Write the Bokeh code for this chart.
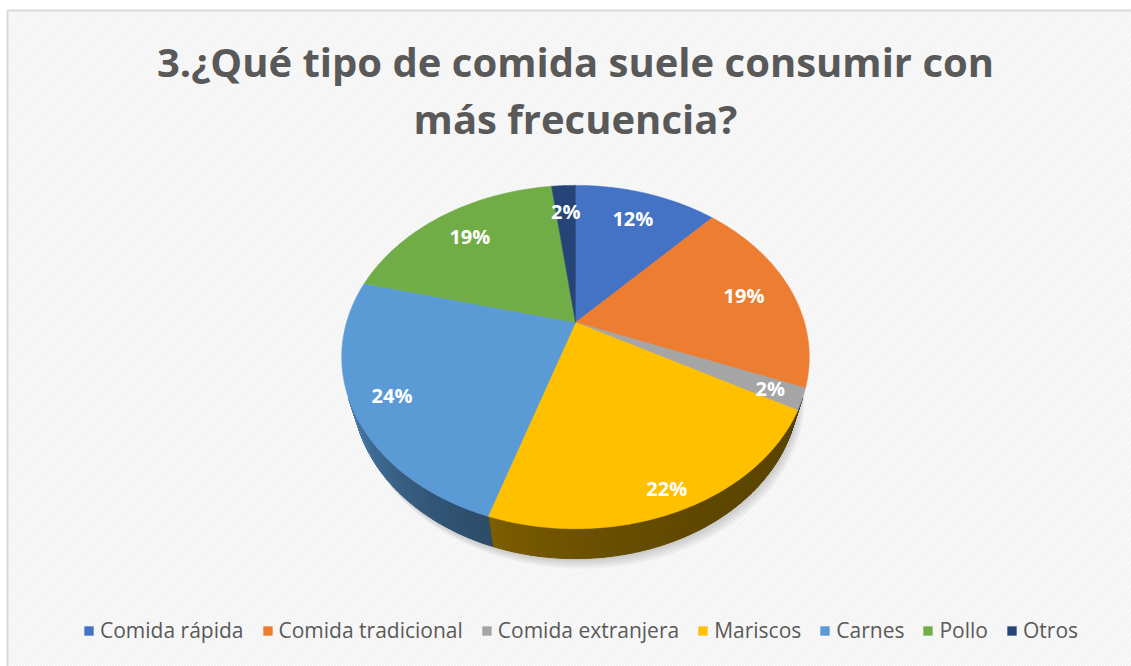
import numpy as np
from bokeh.plotting import figure
from bokeh.models import Range1d, Legend, LegendItem, ColumnDataSource
from bokeh.core.properties import value
from bokeh.embed import file_html
from bokeh.resources import INLINE

# ---------------- data ----------------
title_lines = ["3.¿Qué tipo de comida suele consumir con", "más frecuencia?"]
categories = ["Comida rápida", "Comida tradicional", "Comida extranjera",
              "Mariscos", "Carnes", "Pollo", "Otros"]
percent = [12, 19, 2, 22, 24, 19, 2]
colors = ["#4472C4", "#ED7D31", "#A5A5A5", "#FFC000", "#5B9BD5", "#70AD47", "#264478"]

# ---------------- layout / style ----------------
W, H = 1131, 666
CX, CY = 575.0, 322.0      # pie apex (px)
S = 229.0                  # horizontal scale
K = 0.2013                 # perspective strength
ALPHA = np.deg2rad(46.0)   # tilt
D = np.cos(ALPHA) / K
F = S * D
THICK = 0.217
label_r = [0.78, 0.78, 0.87, 0.90, 0.84, 0.78, 0.78]
FONT = "Open Sans"


def project(theta, r=1.0, z=0.0):
    X = r * np.cos(theta)
    Y = r * np.sin(theta)
    yc = Y * np.sin(ALPHA) + z * np.cos(ALPHA)
    zc = D + Y * np.cos(ALPHA) - z * np.sin(ALPHA)
    return CX + F * X / zc, CY - F * yc / zc


def shade(hexcol, f):
    h = hexcol.lstrip("#")
    r, g, b = (int(h[i:i + 2], 16) for i in (0, 2, 4))
    return "#%02x%02x%02x" % (int(r * f), int(g * f), int(b * f))


p = figure(width=W, height=H, x_range=Range1d(0, W), y_range=Range1d(H, 0),
           toolbar_location=None, output_backend="svg", min_border=0,
           x_axis_location=None, y_axis_location=None)
p.grid.visible = False
p.outline_line_color = None
p.background_fill_color = "white"
p.border_fill_color = "white"

# hatched chart background + border
p.quad(left=[7], right=[W + 5], top=[10], bottom=[H + 5], fill_color="white",
       hatch_pattern="\\", hatch_color="#f3f3f3", hatch_scale=6, hatch_weight=2,
       line_color="#d9d9d9", line_width=2)

# ---------------- geometry from data ----------------
total = float(sum(percent))
fr = np.array(percent) / total
cum = np.concatenate([[0.0], np.cumsum(fr)])
t_start = np.pi / 2 - 2 * np.pi * cum[:-1]
t_end = np.pi / 2 - 2 * np.pi * cum[1:]

# soft shadow under the pie
full = np.linspace(0, 2 * np.pi, 361)
bx, by = project(full, 1.0, -THICK)
for k in range(1, 6):
    p.patch(bx + 1.2 * k, by + 2.0 * k, fill_color="black", fill_alpha=0.035, line_color=None)

# visible side walls (strips)
vis_lim = -1.0 / (D * np.cos(ALPHA))
sxs, sys_, scol = [], [], []
for i in range(len(percent)):
    n = max(2, int(abs(t_start[i] - t_end[i]) / np.deg2rad(0.5)) + 1)
    th = np.linspace(t_start[i], t_end[i], n)
    for a, b in zip(th[:-1], th[1:]):
        m = 0.5 * (a + b)
        if np.sin(m) >= vis_lim:
            continue
        x1, y1 = project(np.array([a, b]), 1.0, 0.0)
        x2, y2 = project(np.array([b, a]), 1.0, -THICK)
        deg = np.rad2deg(np.arctan2(np.sin(m), np.cos(m)))
        t = np.clip((-24.6 - deg) / 130.8, 0, 1)
        f = 0.36 + 0.44 * t ** 2.7
        sxs.append(list(x1) + list(x2))
        sys_.append(list(y1) + list(y2))
        scol.append(shade(colors[i], f))
p.patches(xs=sxs, ys=sys_, fill_color=scol, line_color=scol, line_width=1)

# top faces
txs, tys = [], []
for i in range(len(percent)):
    n = max(3, int(abs(t_start[i] - t_end[i]) / np.deg2rad(0.5)) + 1)
    th = np.linspace(t_start[i], t_end[i], n)
    ax, ay = project(th, 1.0, 0.0)
    txs.append([CX] + list(ax))
    tys.append([CY] + list(ay))
top_src = ColumnDataSource(dict(xs=txs, ys=tys, color=colors, label=categories))
top = p.patches(xs="xs", ys="ys", fill_color="color", line_color="color",
                line_width=0.5, source=top_src)

# data labels
mid = 0.5 * (t_start + t_end)
lx, ly = [], []
for i in range(len(percent)):
    x, y = project(mid[i], label_r[i], 0.0)
    lx.append(float(x)); ly.append(float(y))
p.text(x=lx, y=ly, text=[f"{v}%" for v in percent], text_color="white",
       text_font=value(FONT), text_font_style="bold", text_font_size="20px",
       text_align="center", text_baseline="middle")

# title
p.text(x=[575, 575], y=[61, 118], text=title_lines, text_color="#595959",
       text_font=value(FONT), text_font_style="bold", text_font_size="40px",
       text_align="center", text_baseline="alphabetic")

# legend
items = [LegendItem(label=c, renderers=[top], index=i) for i, c in enumerate(categories)]
leg = Legend(items=items, orientation="horizontal", location=(83, 22),
             glyph_width=11, glyph_height=11, label_standoff=6, spacing=18,
             padding=0, margin=0, border_line_color=None, background_fill_alpha=0,
             label_text_font=FONT, label_text_font_size="21px",
             label_text_color="#595959")
p.add_layout(leg)

open("out.html", "w").write(file_html(p, INLINE))
